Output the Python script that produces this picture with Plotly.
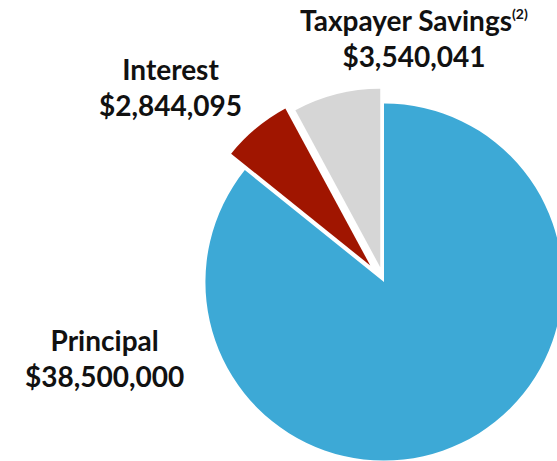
import plotly.graph_objects as go

# Debt service breakdown
categories = ["Principal", "Interest", "Taxpayer Savings"]
amounts = [38500000, 2844095, 3540041]
label_names = ["Principal", "Interest", "Taxpayer Savings<sup><span style='font-size:14px'>(2)</span></sup>"]
colors = ["#3DA9D6", "#A01500", "#D6D6D6"]
pulls = [0, 0.12, 0.085]

# Canvas larger than the viewport so the pie runs off the right and bottom edges
W, H = 604, 502
L, T, R, B = 184, 82, 20, 20
PW, PH = W - L - R, H - T - B


def to_paper(px, py):
    return (px - L) / PW, 1 - (py - T) / PH


fig = go.Figure(
    go.Pie(
        labels=categories,
        values=amounts,
        sort=False,
        direction="clockwise",
        rotation=0,
        pull=pulls,
        marker=dict(colors=colors, line=dict(color="white", width=0)),
        textinfo="none",
        hoverinfo="label+value",
        showlegend=False,
    )
)

# Label block centres (pixels)
label_pos = [(104, 358), (170, 87), (414, 38)]
for name, amt, (px, py) in zip(label_names, amounts, label_pos):
    xp, yp = to_paper(px, py)
    fig.add_annotation(
        x=xp, y=yp, xref="paper", yref="paper",
        text=f"{name}<br>${amt:,.0f}",
        showarrow=False, xanchor="center", yanchor="middle", align="center",
        font=dict(family="Lato", size=28, color="#111111", weight="bold"),
    )

fig.update_layout(
    width=W, height=H,
    margin=dict(l=L, r=R, t=T, b=B, autoexpand=False),
    paper_bgcolor="white", plot_bgcolor="white",
)

fig.write_html(
    "out.html",
    config={"displayModeBar": False},
    post_script="document.documentElement.style.overflow='hidden';document.body.style.overflow='hidden';document.body.style.margin='0';",
)
